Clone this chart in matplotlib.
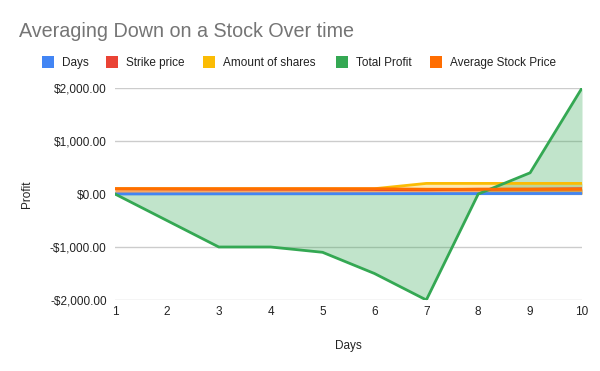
import matplotlib.pyplot as plt
from matplotlib.patches import Rectangle
from matplotlib.ticker import FuncFormatter

plt.rcParams['font.family'] = ['Liberation Sans', 'DejaVu Sans']

# data
days = [1, 2, 3, 4, 5, 6, 7, 8, 9, 10]
strike_price = [100, 95, 90, 90, 89, 85, 80, 90, 92, 100]
shares = [100, 100, 100, 100, 100, 100, 200, 200, 200, 200]
total_profit = [0, -500, -1000, -1000, -1100, -1500, -2000, 0, 400, 2000]
avg_price = [100, 100, 100, 100, 100, 100, 90, 90, 90, 90]

names = ['Days', 'Strike price', 'Amount of shares', 'Total Profit', 'Average Stock Price']
colors = ['#4285F4', '#EA4335', '#FBBC04', '#34A853', '#FF6D01']
series = [days, strike_price, shares, total_profit, avg_price]

W, H = 600, 371
fig = plt.figure(figsize=(6, 3.71), dpi=100)
ax = fig.add_axes([115/W, 1-300/H, (582-115)/W, (300-88)/H])

for i, (vals, c) in enumerate(zip(series, colors)):
    ax.fill_between(days, 0, vals, color=c, alpha=0.3, linewidth=0, zorder=2+i)
    ax.plot(days, vals, color=c, linewidth=2, zorder=10+i)

ax.set_xlim(1, 10)
ax.set_ylim(-2000, 2000)
ax.set_xticks(days)
ax.set_yticks([-2000, -1000, 0, 1000, 2000])

def money(v, pos):
    if v < 0:
        return '-${:,.2f}'.format(-v)
    return '${:,.2f}'.format(v)
ax.yaxis.set_major_formatter(FuncFormatter(money))

ax.grid(axis='y', color='#cccccc', linewidth=1, zorder=0)
ax.set_axisbelow(True)
for s in ax.spines.values():
    s.set_visible(False)
ax.tick_params(length=0, labelsize=8.5, colors='#222222', pad=6)
ax.tick_params(axis='x', pad=4)

ax.set_xlabel('Days', fontsize=8.5, color='#222222', labelpad=16)
ax.set_ylabel('Profit', fontsize=8.5, color='#222222', labelpad=12)

fig.text(19/W, 1-37/H, 'Averaging Down on a Stock Over time', fontsize=14.2,
         color='#757575', va='baseline', ha='left')

# legend drawn by hand to keep Google-Sheets spacing
leg_x = [42, 106, 203, 336, 430]
for x, name, c in zip(leg_x, names, colors):
    fig.patches.append(Rectangle((x/W, 1-68/H), 12/W, 12/H, transform=fig.transFigure,
                                 facecolor=c, edgecolor='none'))
    fig.text((x+20)/W, 1-66/H, name, fontsize=8.5, color='#222222', va='baseline', ha='left')

fig.savefig('out.png', dpi=100)
